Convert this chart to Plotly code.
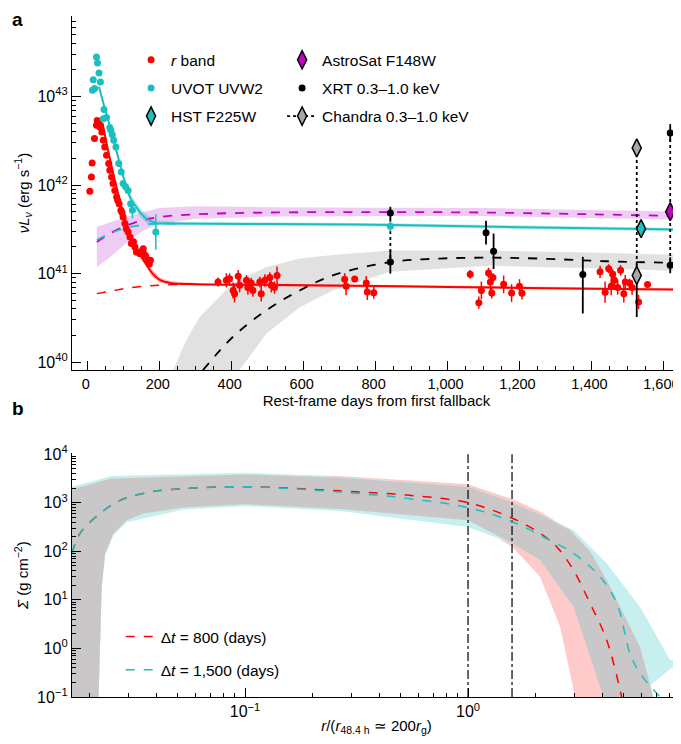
import numpy as np
import plotly.graph_objects as go

# ---- panel a: light curves (days, log10 nuL_nu [erg/s], err in dex) ----
r_days = [5.6, 10, 12, 18.5, 24, 26, 31, 33, 39, 43, 47, 52, 58, 61, 66, 70, 75, 80, 83, 87, 92, 95, 98,
          103, 107, 112, 117, 121, 127, 131, 135, 144, 148, 154, 157, 161, 168, 171, 174,
          362, 385, 394, 404, 408, 418, 422, 441, 445, 454, 459, 478, 482, 492, 506, 510, 519, 526,
          714, 718, 742, 774, 777, 795,
          1063, 1087, 1094, 1114, 1119, 1123, 1126, 1156, 1178, 1200, 1207,
          1424, 1438, 1448, 1455, 1459, 1464, 1473, 1481, 1490, 1494, 1506, 1513, 1531, 1556]
r_lum = [41.93, 42.09, 42.25, 42.525, 42.676, 42.73, 42.713, 42.657, 42.60, 42.506, 42.43, 42.337, 42.243,
         42.167, 42.09, 42.017, 41.94, 41.866, 41.83, 41.79, 41.715, 41.69, 41.64, 41.565, 41.508, 41.47,
         41.414, 41.34, 41.36, 41.30, 41.244, 41.226, 41.25, 41.28, 41.22, 41.195, 41.15, 41.11, 41.15,
         40.905, 40.924, 40.943, 40.81, 40.774, 40.97, 40.868, 40.924, 40.842, 40.894, 40.81, 40.905,
         40.774, 40.924, 40.955, 40.868, 40.842, 40.98,
         40.936, 40.857, 40.94, 40.894, 40.792, 40.785,
         40.992, 40.672, 40.81, 41.007, 40.905, 40.78, 40.955, 40.879, 40.78, 40.857, 40.777,
         41.02, 40.79, 41.056, 40.857, 40.992, 40.924, 40.842, 41.037, 40.774, 40.905, 40.894, 40.842,
         40.68, 40.876]
r_err = [0.0] * 39 + [0.05, 0.08, 0.06, 0.09, 0.1, 0.07, 0.08, 0.06, 0.08, 0.06, 0.07, 0.06, 0.09, 0.07,
                      0.06, 0.08, 0.07, 0.1,
                      0.07, 0.1, 0.03, 0.08, 0.09, 0.07,
                      0.05, 0.07, 0.1, 0.06, 0.1, 0.06, 0.05, 0.1, 0.1, 0.08, 0.07,
                      0.07, 0.12, 0.05, 0.1, 0.06, 0.1, 0.08, 0.06, 0.1, 0.08, 0.05, 0.08, 0.08, 0.03]

uv_days = [13, 15, 19, 24, 27, 31, 35, 43, 45, 52, 61, 64, 68, 72, 78, 86, 93, 98, 105, 112, 119, 124, 189, 841]
uv_lum = [43.07, 43.19, 43.09, 43.447, 43.38, 43.267, 43.165, 42.75, 42.853, 42.763, 42.65, 42.62, 42.57,
          42.506, 42.43, 42.243, 42.148, 42.017, 41.98, 41.94, 41.79, 41.715, 41.47, 41.534]
uv_err = [0.01] * 21 + [0.09, 0.2, 0.06]

hst_days = [1538]
hst_lum = [41.508]
astro_days = [1619]
astro_lum = [41.70]

xrt_days = [841, 841, 1107, 1128, 1376, 1619, 1619]
xrt_lum = [41.685, 41.13, 41.463, 41.252, 40.99, 41.094, 42.589]
xrt_up = [0.07, 0.13, 0.135, 0.2, 0.2, 0.09, 0.1]
xrt_dn = [0.07, 0.13, 0.135, 0.2, 0.44, 0.09, 0.1]

chandra_days = [1526, 1526]
chandra_lum = [42.42, 40.98]
chandra_up = [0.0, 0.13]
chandra_dn = [0.0, 0.47]

# model curves
r_mod_days = [41, 60, 80, 100, 120, 140, 160, 180, 200, 230, 300, 600, 1000, 1400, 1650]
r_mod = [42.70, 42.32, 41.97, 41.66, 41.42, 41.25, 41.12, 41.00, 40.93, 40.895, 40.88, 40.87, 40.85, 40.83, 40.82]
r_mod_w = [0.02, 0.02, 0.02, 0.03, 0.04, 0.04, 0.04, 0.04, 0.03, 0.02, 0.015, 0.015, 0.015, 0.015, 0.015]
r_const_days = [25, 60, 100, 150, 200, 250, 300]
r_const = [40.774, 40.80, 40.83, 40.855, 40.87, 40.878, 40.88]

uv_mod_days = [31, 45, 61, 80, 95, 107, 120, 135, 150, 163, 180, 191, 250, 500, 841, 1200, 1600, 1650]
uv_mod = [43.11, 42.90, 42.67, 42.38, 42.15, 41.98, 41.84, 41.75, 41.67, 41.62, 41.585, 41.57, 41.565,
          41.56, 41.55, 41.525, 41.50, 41.495]
uv_mod_w = [0.02, 0.02, 0.02, 0.02, 0.03, 0.04, 0.05, 0.05, 0.05, 0.05, 0.04, 0.03, 0.02, 0.02, 0.02,
            0.02, 0.02, 0.02]
uv_const_days = [25, 60, 100, 150, 200, 250]
uv_const = [41.38, 41.45, 41.51, 41.55, 41.565, 41.565]

fuv_days = [25, 60, 100, 150, 200, 300, 500, 800, 1100, 1400, 1650]
fuv_mod = [41.357, 41.45, 41.53, 41.60, 41.64, 41.67, 41.69, 41.695, 41.69, 41.67, 41.65]
fuv_hi = [41.53, 41.58, 41.63, 41.69, 41.74, 41.76, 41.75, 41.745, 41.74, 41.72, 41.70]
fuv_lo = [41.075, 41.18, 41.32, 41.48, 41.56, 41.62, 41.645, 41.65, 41.65, 41.63, 41.61]

x_mod_days = [320, 403, 496, 589, 681, 841, 978, 1117, 1256, 1441, 1650]
x_mod = [39.91, 40.284, 40.585, 40.81, 40.98, 41.13, 41.17, 41.18, 41.17, 41.14, 41.12]
x_hi_days = [237, 274, 311, 403, 496, 589, 681, 839, 1117, 1400, 1650]
x_hi = [39.91, 40.25, 40.51, 40.89, 41.075, 41.17, 41.21, 41.26, 41.26, 41.24, 41.21]
x_lo_days = [422, 496, 589, 681, 839, 1117, 1400, 1650]
x_lo = [39.91, 40.32, 40.62, 40.81, 41.02, 41.09, 41.06, 41.03]

# ---- panel b: surface density (log10 r, log10 Sigma) ----
d800_x = [-1.776, -1.74, -1.65, -1.56, -1.426, -1.277, -1.0, -0.574, -0.275, 0.0, 0.199, 0.323, 0.398,
          0.473, 0.547, 0.622, 0.689]
d800_y = [1.96, 2.37, 2.78, 3.05, 3.22, 3.29, 3.33, 3.245, 3.157, 3.0, 2.68, 2.37, 2.09, 1.61, 0.93, 0.17, -1.0]
d1500_x = [-1.776, -1.74, -1.65, -1.56, -1.426, -1.277, -1.0, -0.574, -0.275, 0.0, 0.199, 0.323, 0.473,
           0.592, 0.667, 0.726, 0.771, 0.861]
d1500_y = [1.96, 2.37, 2.78, 3.05, 3.22, 3.29, 3.33, 3.22, 3.09, 2.90, 2.61, 2.33, 1.957, 1.475, 0.93,
           -0.1, -0.51, -1.0]

red_hi_x = [-1.776, -1.6, -1.0, -0.574, 0.0, 0.199, 0.323, 0.457, 0.547, 0.622, 0.771, 0.831, 0.85]
red_hi_y = [3.28, 3.50, 3.60, 3.55, 3.38, 3.07, 2.82, 2.44, 2.0, 1.41, 0.035, -1.0, -1.5]
red_lo_x = [-1.776, -1.66, -1.643, -1.628, -1.59, -1.53, -1.456, -1.277, -1.0, -0.574, 0.0, 0.199, 0.323,
            0.413, 0.48, 0.49]
red_lo_y = [-1.5, -1.5, 1.27, 1.957, 2.37, 2.64, 2.78, 2.90, 2.97, 2.87, 2.64, 2.09, 1.475, 0.446, -1.0, -1.5]
cy_hi_x = [-1.776, -1.6, -1.0, -0.574, 0.0, 0.199, 0.323, 0.473, 0.622, 0.771, 0.906, 0.955]
cy_hi_y = [3.33, 3.55, 3.62, 3.53, 3.33, 3.0, 2.76, 2.44, 1.75, 0.86, -0.24, -0.24]
cy_lo_x = [-1.776, -1.66, -1.643, -1.628, -1.59, -1.53, -1.277, -1.0, -0.574, 0.0, 0.199, 0.323, 0.473,
           0.607, 0.62]
cy_lo_y = [-1.5, -1.5, 1.2, 1.9, 2.33, 2.6, 2.86, 2.93, 2.83, 2.50, 2.16, 1.82, 0.86, -1.0, -1.5]
gr_hi_x = [-1.776, -1.6, -1.0, -0.574, 0.0, 0.199, 0.323, 0.457, 0.547, 0.622, 0.771, 0.831, 0.85]
gr_hi_y = [3.28, 3.50, 3.58, 3.52, 3.33, 3.0, 2.76, 2.44, 2.0, 1.41, 0.035, -1.0, -1.5]
gr_lo_x = [-1.776, -1.66, -1.643, -1.628, -1.59, -1.53, -1.456, -1.277, -1.0, -0.574, 0.0, 0.199, 0.323,
           0.473, 0.607, 0.62]
gr_lo_y = [-1.5, -1.5, 1.27, 1.957, 2.37, 2.64, 2.78, 2.90, 2.97, 2.87, 2.64, 2.16, 1.82, 0.86, -1.0, -1.5]
vlines_r = [1.0, 1.575]

RED = "#ff0000"
CYAN = "#1bbfc0"
PURPLE = "#c400c4"
FONT = "Liberation Sans, Arial, sans-serif"


def p10(a):
    return 10 ** np.asarray(a, dtype=float)


def errs(val, up, dn):
    v = p10(val)
    return v * (10 ** np.asarray(up) - 1), v * (1 - 10 ** (-np.asarray(dn)))


def band(xh, yh, xl, yl, color, xa, ya, logx=False):
    xs = list(xh) + list(xl)[::-1]
    ys = list(yh) + list(yl)[::-1]
    if logx:
        xs = p10(xs)
    return go.Scatter(x=xs, y=p10(ys), fill="toself", fillcolor=color, mode="lines",
                      line=dict(width=0), hoverinfo="skip", showlegend=False, xaxis=xa, yaxis=ya)


fig = go.Figure()

# bands, panel a
fig.add_trace(band(x_hi_days, x_hi, x_lo_days, x_lo, "rgba(200,200,200,0.55)", "x", "y"))
fig.add_trace(band(fuv_days, fuv_hi, fuv_days, fuv_lo, "rgba(205,110,220,0.35)", "x", "y"))
fig.add_trace(band(uv_mod_days, np.array(uv_mod) + np.array(uv_mod_w), uv_mod_days,
                   np.array(uv_mod) - np.array(uv_mod_w), "rgba(27,191,192,0.3)", "x", "y"))
fig.add_trace(band(r_mod_days, np.array(r_mod) + np.array(r_mod_w), r_mod_days,
                   np.array(r_mod) - np.array(r_mod_w), "rgba(255,0,0,0.25)", "x", "y"))

# model lines
fig.add_trace(go.Scatter(x=x_mod_days, y=p10(x_mod), mode="lines", line=dict(color="black", width=1.8, dash="dash", shape="spline"), showlegend=False))
fig.add_trace(go.Scatter(x=fuv_days, y=p10(fuv_mod), mode="lines", line=dict(color=PURPLE, width=1.8, dash="dash", shape="spline"), showlegend=False))
fig.add_trace(go.Scatter(x=uv_const_days, y=p10(uv_const), mode="lines", line=dict(color=CYAN, width=1.8, dash="dash", shape="spline"), showlegend=False))
fig.add_trace(go.Scatter(x=r_const_days, y=p10(r_const), mode="lines", line=dict(color=RED, width=1.5, dash="dash", shape="spline"), showlegend=False))
fig.add_trace(go.Scatter(x=uv_mod_days, y=p10(uv_mod), mode="lines", line=dict(color=CYAN, width=2, shape="spline"), showlegend=False))
fig.add_trace(go.Scatter(x=r_mod_days, y=p10(r_mod), mode="lines", line=dict(color=RED, width=2, shape="spline"), showlegend=False))

# dotted connectors between X-ray points of one epoch
for d in sorted(set(xrt_days)):
    ys = [v for dd, v in zip(xrt_days, xrt_lum) if dd == d]
    if len(ys) > 1:
        fig.add_trace(go.Scatter(x=[d, d], y=p10([max(ys), min(ys)]), mode="lines",
                                 line=dict(color="black", width=1.8, dash="dot"), showlegend=False))

# data points
up, dn = errs(r_lum, r_err, r_err)
fig.add_trace(go.Scatter(x=r_days, y=p10(r_lum), mode="markers", name="<i>r</i> band",
                         marker=dict(color=RED, size=7),
                         error_y=dict(type="data", array=up, arrayminus=dn, color=RED, thickness=1.5, width=0),
                         legend="legend", legendgroup="r"))
up, dn = errs(uv_lum, uv_err, uv_err)
fig.add_trace(go.Scatter(x=uv_days, y=p10(uv_lum), mode="markers", name="UVOT UVW2",
                         marker=dict(color=CYAN, size=7),
                         error_y=dict(type="data", array=up, arrayminus=dn, color=CYAN, thickness=1.5, width=0),
                         legend="legend", legendgroup="uv"))
up, dn = errs(hst_lum, [0.02], [0.02])
fig.add_trace(go.Scatter(x=hst_days, y=p10(hst_lum), mode="markers", name="HST F225W",
                         marker=dict(color=CYAN, size=13, symbol="diamond-tall", line=dict(color="black", width=1.5)),
                         error_y=dict(type="data", array=up, arrayminus=dn, color=CYAN, thickness=1.5, width=0),
                         legend="legend", legendgroup="hst"))
fig.add_trace(go.Scatter(x=astro_days, y=p10(astro_lum), mode="markers", name="AstroSat F148W",
                         marker=dict(color=PURPLE, size=13, symbol="diamond-tall", line=dict(color="black", width=1.5)),
                         legend="legend2", legendgroup="astro"))
up, dn = errs(xrt_lum, xrt_up, xrt_dn)
fig.add_trace(go.Scatter(x=xrt_days, y=p10(xrt_lum), mode="markers", name="XRT 0.3–1.0 keV",
                         marker=dict(color="black", size=7),
                         error_y=dict(type="data", array=up, arrayminus=dn, color="black", thickness=1.8, width=0),
                         legend="legend2", legendgroup="xrt"))
up, dn = errs(chandra_lum, chandra_up, chandra_dn)
fig.add_trace(go.Scatter(x=chandra_days, y=p10(chandra_lum), mode="lines+markers", name="Chandra 0.3–1.0 keV",
                         line=dict(color="black", width=1.8, dash="dot"),
                         marker=dict(color="#a8a8a8", size=13, symbol="diamond-tall", line=dict(color="black", width=1.5)),
                         error_y=dict(type="data", array=up, arrayminus=dn, color="black", thickness=1.8, width=0),
                         legend="legend2", legendgroup="chandra"))

# panel b
fig.add_trace(band(red_hi_x, red_hi_y, red_lo_x, red_lo_y, "#ffcaca", "x2", "y2", logx=True))
fig.add_trace(band(cy_hi_x, cy_hi_y, cy_lo_x, cy_lo_y, "#c8efef", "x2", "y2", logx=True))
fig.add_trace(band(gr_hi_x, gr_hi_y, gr_lo_x, gr_lo_y, "#c9c7c7", "x2", "y2", logx=True))
for xv in vlines_r:
    fig.add_trace(go.Scatter(x=[xv, xv], y=[1e-1, 1e4], mode="lines", xaxis="x2", yaxis="y2",
                             line=dict(color="black", width=1.2, dash="dashdot"), showlegend=False))
fig.add_trace(go.Scatter(x=p10(d800_x), y=p10(d800_y), mode="lines", xaxis="x2", yaxis="y2",
                         name="Δ<i>t</i> = 800 (days)", line=dict(color=RED, width=1.5, dash="dash", shape="spline"),
                         legend="legend3", legendgroup="d800"))
fig.add_trace(go.Scatter(x=p10(d1500_x), y=p10(d1500_y), mode="lines", xaxis="x2", yaxis="y2",
                         name="Δ<i>t</i> = 1,500 (days)", line=dict(color=CYAN, width=1.5, dash="dash", shape="spline"),
                         legend="legend3", legendgroup="d1500"))

dec = lambda lo, hi: [m * 10.0 ** e for e in range(lo, hi) for m in range(2, 10)]
axis_common = dict(showline=True, linecolor="black", linewidth=1.3, ticks="inside", tickcolor="black",
                   tickwidth=1.3, showgrid=False, zeroline=False, mirror=False, automargin=False,
                   ticklen=9)
xfont = dict(size=14.5, color="black")
yfont = dict(size=16, color="black")

# page body adds an 8 px offset; height kept so the page does not overflow the window
fig.update_layout(
    width=681, height=728,
    margin=dict(l=64, r=8, t=8, b=39),
    paper_bgcolor="white", plot_bgcolor="white",
    font=dict(family=FONT, size=15, color="black"),
    xaxis=dict(domain=[0, 1], anchor="y", range=[-44, 1649],
               tickvals=list(range(0, 1601, 200)),
               ticktext=["0", "200", "400", "600", "800", "1,000", "1,200", "1,400", "1,600"],
               tickfont=xfont, ticklabelshift=-2,
               minor=dict(dtick=50, ticks="inside", ticklen=4, tickcolor="black"),
               title=dict(text="Rest-frame days from first fallback", standoff=4, font=dict(size=15)),
               **axis_common),
    yaxis=dict(domain=[0.48, 1], anchor="x", type="log", range=[39.91, 43.91],
               tickvals=[1e40, 1e41, 1e42, 1e43],
               ticktext=["10<sup>40</sup>", "10<sup>41</sup>", "10<sup>42</sup>", "10<sup>43</sup>"],
               tickfont=yfont, minor=dict(tickvals=dec(40, 44), ticks="inside", ticklen=4, tickcolor="black"),
               title=dict(text="<i>νL</i><sub><i>ν</i></sub> (erg s<sup>−1</sup>)", standoff=4, font=dict(size=15)),
               **axis_common),
    xaxis2=dict(domain=[0, 1], anchor="y2", type="log", range=[-1.776, 0.955],
                tickvals=[0.1, 1], ticktext=["10<sup>−1</sup>", "10<sup>0</sup>"],
                tickfont=yfont, minor=dict(tickvals=dec(-2, 1), ticks="inside", ticklen=4, tickcolor="black"),
                title=dict(text="<i>r</i>/(<i>r</i><sub>48.4 h</sub> ≃ 200<i>r</i><sub>g</sub>)", standoff=9,
                           font=dict(size=15)),
                **axis_common),
    yaxis2=dict(domain=[0, 0.358], anchor="x2", type="log", range=[-1, 4.02],
                tickvals=[1e-1, 1, 10, 100, 1e3, 1e4],
                ticktext=["10<sup>−1</sup>", "10<sup>0</sup>", "10<sup>1</sup>", "10<sup>2</sup>",
                          "10<sup>3</sup>", "10<sup>4</sup>"],
                tickfont=yfont, minor=dict(tickvals=dec(-1, 4), ticks="inside", ticklen=4, tickcolor="black"),
                title=dict(text="<i>Σ</i> (g cm<sup>−2</sup>)", standoff=4, font=dict(size=15)),
                **axis_common),
    legend=dict(x=0.097, y=0.96, xanchor="left", yanchor="top", bgcolor="rgba(0,0,0,0)",
                tracegroupgap=5, font=dict(size=15.5)),
    legend2=dict(x=0.345, y=0.96, xanchor="left", yanchor="top", bgcolor="rgba(0,0,0,0)",
                 tracegroupgap=5, font=dict(size=15.5)),
    legend3=dict(x=0.08, y=0.113, xanchor="left", yanchor="top", bgcolor="rgba(0,0,0,0)",
                 tracegroupgap=10, font=dict(size=15.5)),
    annotations=[
        dict(text="<b>a</b>", xref="paper", yref="paper", x=-0.089, y=0.995, showarrow=False,
             font=dict(size=19), xanchor="center", yanchor="middle"),
        dict(text="<b>b</b>", xref="paper", yref="paper", x=-0.089, y=0.423, showarrow=False,
             font=dict(size=19), xanchor="center", yanchor="middle"),
    ],
)

fig.write_html("out.html")
